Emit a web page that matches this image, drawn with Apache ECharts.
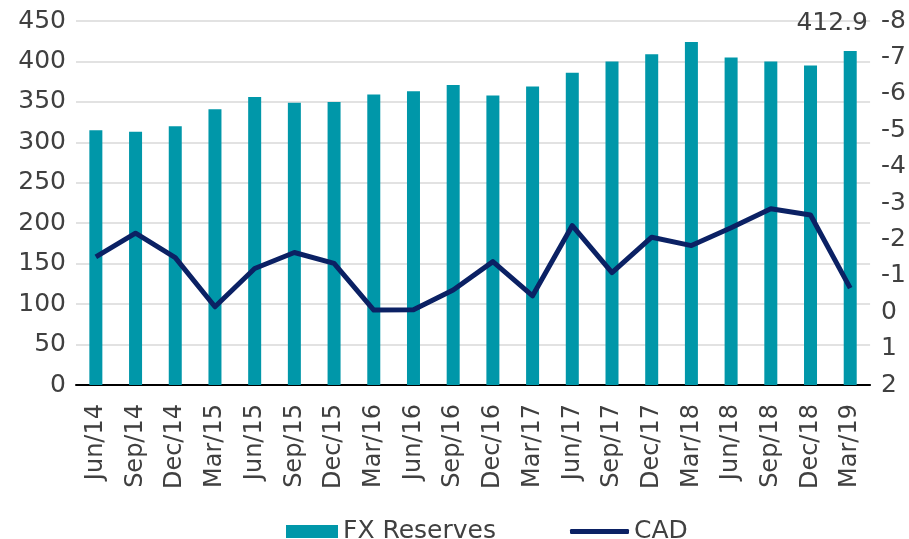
<!DOCTYPE html>
<html>
<head>
<meta charset="utf-8">
<script src="https://cdn.jsdelivr.net/npm/echarts@6/dist/echarts.min.js"></script>
<style>
  html, body { margin: 0; padding: 0; background: #fff; }
  #chart { width: 909px; height: 539px; }
</style>
</head>
<body>
<div id="chart"></div>
<script>
// quarters
var categories = ['Jun/14', 'Sep/14', 'Dec/14', 'Mar/15', 'Jun/15', 'Sep/15', 'Dec/15', 'Mar/16',
  'Jun/16', 'Sep/16', 'Dec/16', 'Mar/17', 'Jun/17', 'Sep/17', 'Dec/17', 'Mar/18',
  'Jun/18', 'Sep/18', 'Dec/18', 'Mar/19'];

// FX reserves (left axis)
var fxReserves = [315, 313, 320, 341, 356, 349, 350, 359, 363, 371,
  358, 369, 386, 400, 409, 424, 405, 400, 395, 412.9];

// CAD (right axis, inverted)
var cad = [-1.52, -2.17, -1.5, -0.15, -1.2, -1.64, -1.34, -0.06, -0.07, -0.61,
  -1.39, -0.45, -2.38, -1.09, -2.06, -1.83, -2.32, -2.84, -2.67, -0.66];

var font = 'DejaVu Sans, Verdana, sans-serif';
var textColor = '#404040';
var barColor = '#0097A9';
var lineColor = '#0B2164';

var myChart = echarts.init(document.getElementById('chart'));

// only the last bar gets its value printed
var barData = fxReserves.map(function (v, i) {
  if (i === fxReserves.length - 1) {
    return {
      value: v,
      label: {
        show: true,
        position: 'top',
        distance: 5,
        offset: [-18, -10],
        formatter: '{c}',
        color: textColor,
        fontSize: 25,
        fontFamily: font
      }
    };
  }
  return v;
});

var legendText = { color: textColor, fontSize: 25, fontFamily: font };

var option = {
  animation: false,
  backgroundColor: '#fff',
  grid: { left: 76, right: 37, top: 21, bottom: 154, containLabel: false },
  legend: [
    {
      left: 281,
      top: 514,
      itemWidth: 52,
      itemHeight: 13,
      itemGap: 5,
      textStyle: legendText,
      data: [{ name: 'FX Reserves', icon: 'rect' }]
    },
    {
      left: 565,
      top: 514,
      itemWidth: 59,
      itemHeight: 5,
      textStyle: legendText,
      data: [{ name: 'CAD', icon: 'roundRect', itemStyle: { color: lineColor } }]
    }
  ],
  xAxis: {
    type: 'category',
    data: categories,
    boundaryGap: true,
    axisLine: { lineStyle: { color: '#000', width: 2 } },
    axisTick: { show: false },
    axisLabel: {
      rotate: 90,
      margin: 19,
      color: textColor,
      fontSize: 24,
      fontFamily: font,
      interval: 0
    }
  },
  yAxis: [
    {
      type: 'value',
      min: 0,
      max: 450,
      interval: 50,
      axisLine: { show: false },
      axisTick: { show: false },
      axisLabel: { color: textColor, fontSize: 25, fontFamily: font, margin: 10 },
      splitLine: { lineStyle: { color: '#d9d9d9', width: 1.5 } }
    },
    {
      type: 'value',
      min: -8,
      max: 2,
      interval: 1,
      inverse: true,
      position: 'right',
      axisLine: { show: false },
      axisTick: { show: false },
      axisLabel: { color: textColor, fontSize: 25, fontFamily: font, margin: 11 },
      splitLine: { show: false }
    }
  ],
  series: [
    {
      name: 'FX Reserves',
      type: 'bar',
      yAxisIndex: 0,
      barWidth: 13,
      itemStyle: { color: barColor },
      data: barData
    },
    {
      name: 'CAD',
      type: 'line',
      yAxisIndex: 1,
      symbol: 'none',
      lineStyle: { color: lineColor, width: 5, join: 'round' },
      itemStyle: { color: lineColor },
      data: cad
    }
  ]
};

myChart.setOption(option);
</script>
</body>
</html>
